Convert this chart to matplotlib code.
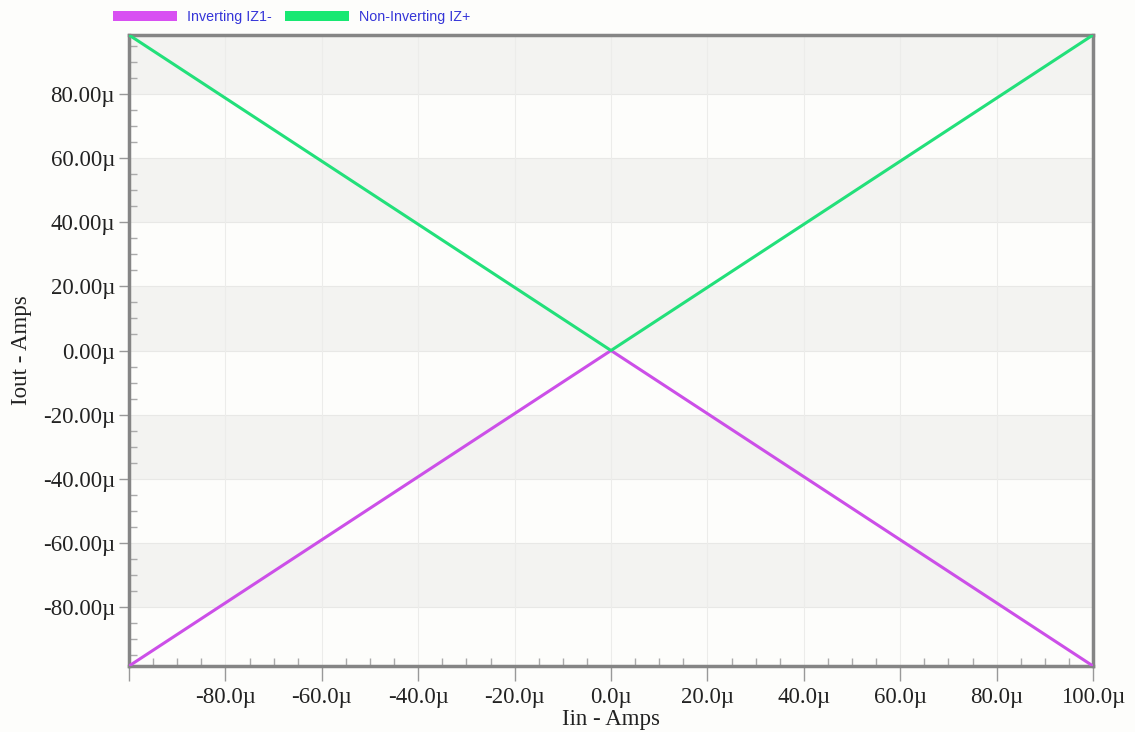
import numpy as np
import matplotlib.pyplot as plt
from matplotlib.patches import Patch
from matplotlib.ticker import MultipleLocator, FuncFormatter

# sweep of input current (uA) and the two outputs (uA)
iin = [-100.0, 0.0, 100.0]
iout_inv = [-98.5, 0.0, -98.5]
iout_noninv = [98.5, 0.0, 98.5]
series_names = ['Inverting IZ1-', 'Non-Inverting IZ+']
series_colors = ['#cc4fe8', '#22e07a']
legend_colors = ['#d850f2', '#18e872']

plt.rcParams['font.family'] = ['Liberation Serif', 'DejaVu Serif']

fig = plt.figure(figsize=(11.35, 7.32), dpi=100, facecolor='#fdfdfb')
ax = fig.add_axes([129/1135, 1 - 666/732, 964/1135, 631/732])
ax.set_facecolor('#fdfdfb')

ymax = 98.5
ax.set_xlim(-100, 100)
ax.set_ylim(-ymax, ymax)

# alternating horizontal bands
edges = [-ymax, -80, -60, -40, -20, 0, 20, 40, 60, 80, ymax]
for k in range(len(edges) - 1):
    if k % 2 == 1:
        ax.axhspan(edges[k], edges[k + 1], color='#f3f3f1', lw=0, zorder=0)
for v in range(-80, 100, 20):
    ax.axhline(v, color='#e8e8e6', lw=0.8, zorder=0.5)
for v in range(-80, 100, 20):
    ax.axvline(v, color='#ececea', lw=0.8, zorder=0.5)

ax.plot(iin, iout_inv, color=series_colors[0], lw=2.2, zorder=3)
ax.plot(iin, iout_noninv, color=series_colors[1], lw=2.2, zorder=3)

ax.xaxis.set_major_locator(MultipleLocator(20))
ax.xaxis.set_minor_locator(MultipleLocator(5))
ax.yaxis.set_major_locator(MultipleLocator(20))
ax.yaxis.set_minor_locator(MultipleLocator(5))
ax.xaxis.set_major_formatter(FuncFormatter(lambda v, p: '%.1fµ' % v if v > -100 else ''))
ax.yaxis.set_major_formatter(FuncFormatter(lambda v, p: '%.2fµ' % v))

ax.tick_params(which='major', direction='out', length=7, width=1, color='#999999',
               labelsize=16.5, labelcolor='#222222', pad=3)
ax.tick_params(axis='x', which='major', length=11, pad=4)
ax.tick_params(which='minor', direction='in', length=6, width=1, color='#aaaaaa')

for s in ax.spines.values():
    s.set_color('#858585')
    s.set_linewidth(2.5)

ax.set_xlabel('Iin - Amps', fontsize=16.5, color='#222222', labelpad=1)
ax.set_ylabel('Iout - Amps', fontsize=16.5, color='#222222', labelpad=8)

handles = [Patch(facecolor=c, edgecolor='none') for c in legend_colors]
fig.legend(handles, series_names, loc='upper left', bbox_to_anchor=(100/1135, 1.004),
           ncol=2, frameon=False, handlelength=4.5, handleheight=0.7,
           handletextpad=0.65, columnspacing=0.95,
           prop={'family': 'Liberation Sans', 'size': 10.3}, labelcolor='#3535d8')

fig.savefig('out.png', dpi=100, facecolor=fig.get_facecolor())
